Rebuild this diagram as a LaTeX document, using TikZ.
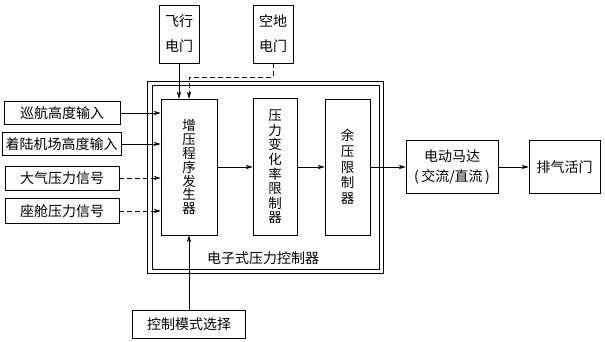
\documentclass[tikz,border=0pt]{standalone}
\usepackage{fontspec}
\setmainfont{Noto Sans CJK SC}
\usetikzlibrary{arrows.meta}
\begin{document}
\begin{tikzpicture}[x=1pt,y=-1pt, line width=0.8pt,
  box/.style={draw, inner sep=0pt, align=center, font=\fontsize{14}{16}\selectfont},
  arr/.style={-{Stealth[length=7pt,width=4.5pt]}},
  dsh/.style={dash pattern=on 5pt off 3pt}]
\useasboundingbox (0,0) rectangle (605,342);
% frame (double line)
\node[draw, minimum width=236, minimum height=192, inner sep=0pt] (frameout) at (265,177) {};
\node[draw, minimum width=227, minimum height=184, inner sep=0pt] (framein) at (265.5,177) {};
\node[font=\fontsize{14}{16}\selectfont] (lbl) at (263,258) {电子式压力控制器};
% input boxes
\node[box, minimum width=116, minimum height=23] (b1) at (62,113) {巡航高度输入};
\node[box, minimum width=119, minimum height=23] (b2) at (61.5,144) {着陆机场高度输入};
\node[box, minimum width=114, minimum height=24] (b3) at (62,178) {大气压力信号};
\node[box, minimum width=114, minimum height=25] (b4) at (62,211) {座舱压力信号};
% switches
\node[box, minimum width=40, minimum height=58, font=\fontsize{14}{25}\selectfont] (fx) at (179,34) {飞行\\电门};
\node[box, minimum width=40, minimum height=58, font=\fontsize{14}{25}\selectfont] (kd) at (273,34) {空地\\电门};
% inner blocks
\node[box, minimum width=56, minimum height=136, font=\fontsize{13.5}{13.9}\selectfont] (zy) at (189,167) {增\\压\\程\\序\\发\\生\\器};
\node[box, minimum width=44, minimum height=137, font=\fontsize{13.5}{14.6}\selectfont] (yl) at (275,167) {压\\力\\变\\化\\率\\限\\制\\器};
\node[box, minimum width=45, minimum height=136, font=\fontsize{13.5}{15.7}\selectfont] (yy) at (347.5,167) {余\\压\\限\\制\\器};
% outputs
\node[box, minimum width=92, minimum height=53, font=\fontsize{14}{20}\selectfont] (dm) at (452,167) {电动马达\\(\,交流/直流\,)};
\node[box, minimum width=71, minimum height=53] (pq) at (564.5,167) {排气活门};
% control mode
\node[box, minimum width=113, minimum height=28] (ck) at (189,324) {控制模式选择};
% connectors
\draw[arr] (b1.east) -- (b1.east -| zy.west);
\draw[arr] (b2.east) -- (b2.east -| zy.west);
\draw[arr,dsh] (b3.east) -- (b3.east -| zy.west);
\draw[arr,dsh] (b4.east) -- (b4.east -| zy.west);
\draw[arr] (fx.south) -- (fx.south |- zy.north);
\draw[arr,dsh] (kd.south) -- ++(0,14) -| (zy.north);
\draw[arr] (ck.north) -- (zy.south);
\draw[arr] (zy.east) -- (yl.west);
\draw[arr] (yl.east) -- (yy.west);
\draw[arr] (yy.east) -- (dm.west);
\draw[arr] (dm.east) -- (pq.west);
\end{tikzpicture}
\end{document}
